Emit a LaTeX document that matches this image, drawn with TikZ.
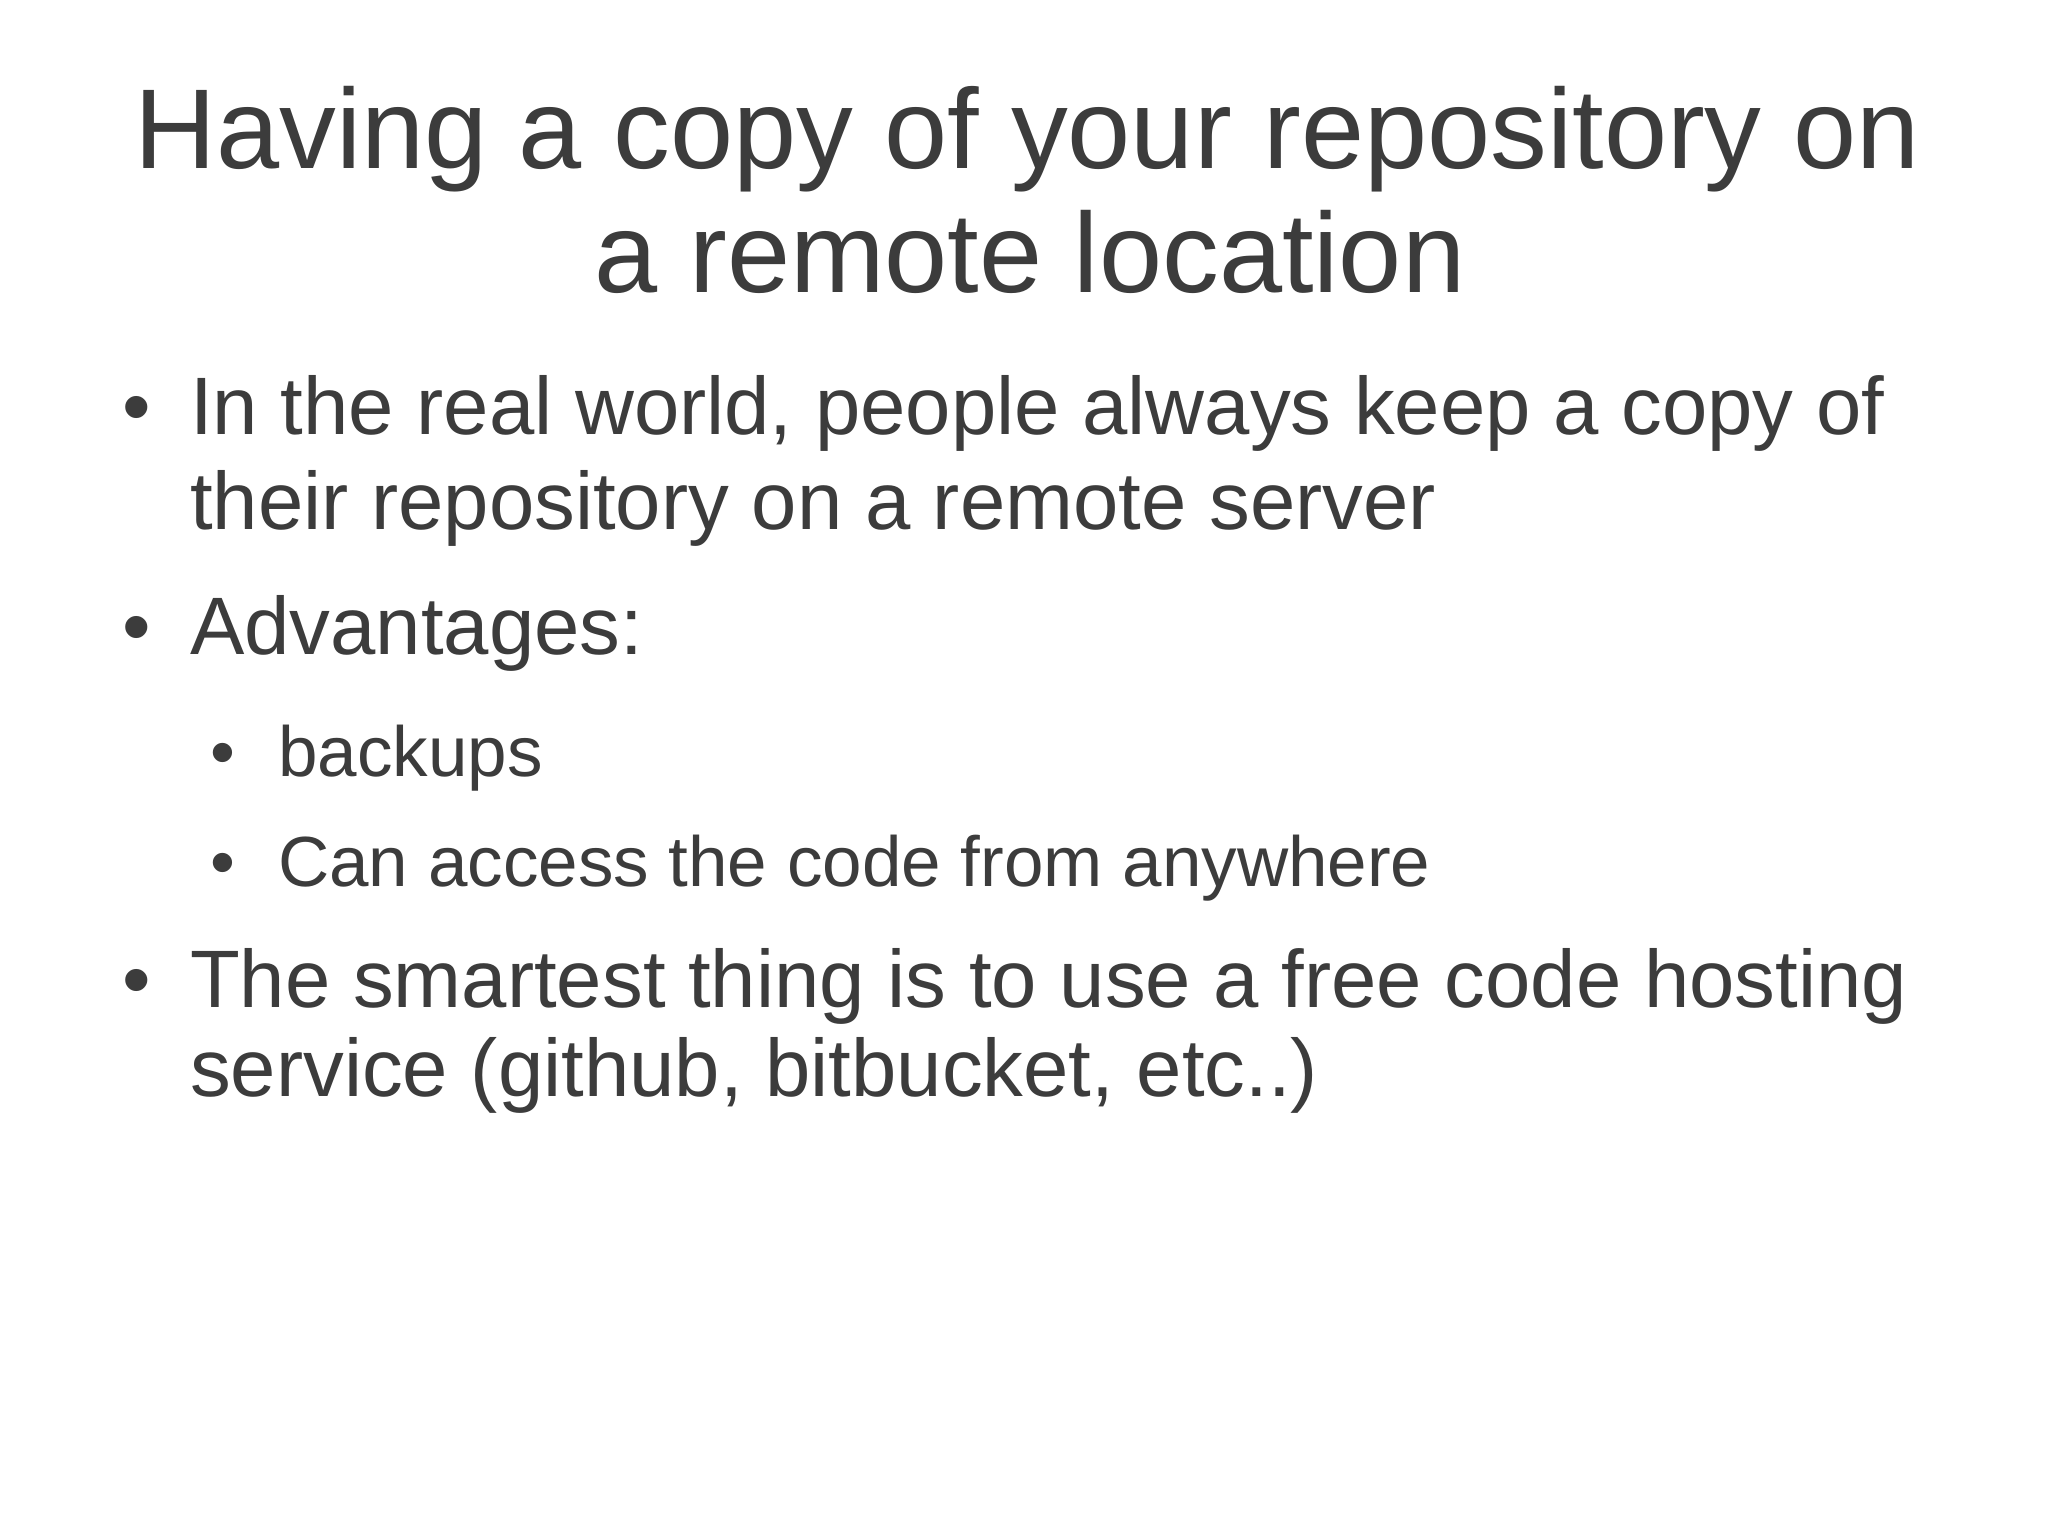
\documentclass[tikz,border=0pt]{standalone}
\usepackage{fontspec}
\setmainfont{Liberation Sans}
\definecolor{ink}{HTML}{3C3C3C}
\begin{document}
\begin{tikzpicture}[x=1pt,y=1pt,
  ttl/.style={anchor=base,inner sep=0pt,text=ink,font=\fontsize{113.5}{124}\selectfont},
  big/.style={anchor=base west,inner sep=0pt,text=ink,font=\fontsize{81.5}{90}\selectfont},
  small/.style={anchor=base west,inner sep=0pt,text=ink,font=\fontsize{71}{76}\selectfont}]
\fill[white] (0,0) rectangle (2048,-1535);
\useasboundingbox (0,0) rectangle (2048,-1535);
\node[ttl] (t1) at (1027,-168) {Having a copy of your repository on};
\node[ttl] (t2) at (1030,-292) {a remote location};
\node[big] (b1) at (122,-434) {•};
\node[big] (l1) at (190,-434) {In the real world, people always keep a copy of};
\node[big] (l2) at (190,-529) {their repository on a remote server};
\node[big] (b2) at (122,-654) {•};
\node[big] (l3) at (190,-654) {Advantages:};
\node[small] (b3) at (210,-776) {•};
\node[small] (l4) at (278,-776) {backups};
\node[small] (b4) at (210,-886) {•};
\node[small] (l5) at (278,-886) {Can access the code from anywhere};
\node[big] (b5) at (122,-1007) {•};
\node[big] (l6) at (190,-1007) {The smartest thing is to use a free code hosting};
\node[big] (l7) at (190,-1096) {service (github, bitbucket, etc..)};
\end{tikzpicture}
\end{document}
